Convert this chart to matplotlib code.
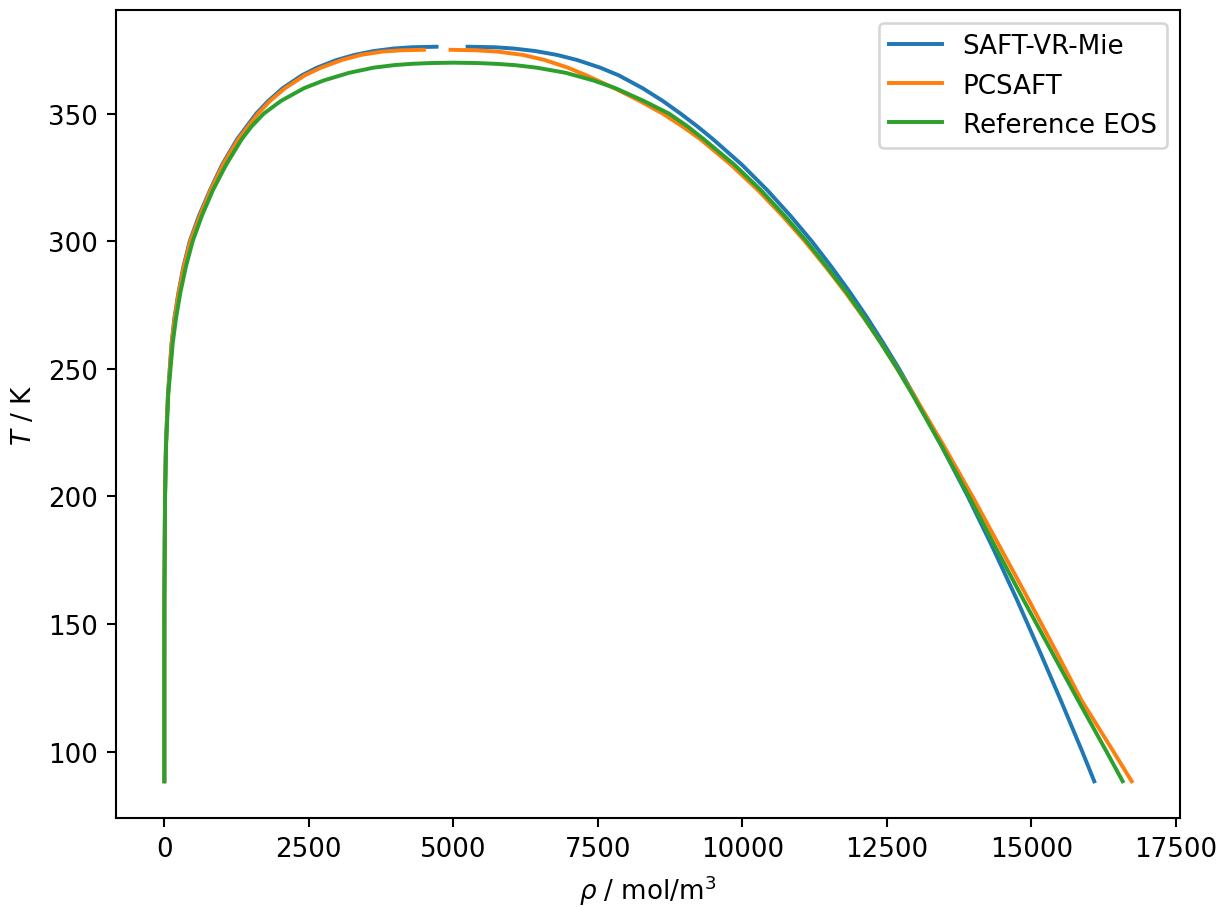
import numpy as np
import matplotlib
matplotlib.use("Agg")
import matplotlib.pyplot as plt

# saturation curves, T in K, rho in mol/m3
T_mie_vap = [88.4, 120, 160, 200, 220, 240, 260, 270, 280, 290, 300, 310, 320,
             330, 340, 350, 355, 360, 365, 368, 371, 373, 374.5, 375.5, 376.0, 376.2]
rho_mie_vap = [0, 0, 0.5, 11, 27, 62, 125, 175, 245, 330, 440, 600, 790,
               1000, 1260, 1590, 1800, 2050, 2380, 2640, 2980, 3290, 3620, 3970, 4280, 4709]
T_mie_liq = [376.2, 376.0, 375.5, 374.5, 373, 371, 368, 365, 360, 355, 350, 345, 340, 330,
             320, 310, 300, 290, 280, 270, 260, 250, 240, 220, 200, 180, 160, 140, 120, 100, 88.4]
rho_mie_liq = [5246, 5720, 6040, 6420, 6790, 7140, 7540, 7860, 8270, 8620, 8930, 9220, 9490, 9990,
               10430, 10830, 11200, 11540, 11860, 12160, 12440, 12710, 12960, 13440, 13900,
               14330, 14740, 15130, 15510, 15880, 16087]

T_pc_vap = [88.4, 120, 160, 200, 220, 240, 260, 270, 280, 290, 300, 310, 320,
            330, 340, 350, 355, 360, 365, 368, 371, 373, 374.3, 374.8, 375.0]
rho_pc_vap = [0, 0, 0.5, 12, 28, 64, 128, 180, 250, 338, 450, 615, 800,
              1015, 1280, 1620, 1830, 2090, 2430, 2710, 3070, 3400, 3770, 4100, 4490]
T_pc_liq = [375.0, 374.8, 374.3, 373, 371, 368, 365, 360, 355, 350, 345, 340, 330, 320, 310,
            300, 290, 280, 270, 260, 250, 240, 220, 200, 180, 160, 140, 120, 100, 88.4]
rho_pc_liq = [4952, 5380, 5760, 6200, 6580, 6980, 7300, 7780, 8220, 8620, 8960, 9270, 9800,
              10270, 10690, 11080, 11440, 11780, 12100, 12400, 12680, 12960, 13480, 13980,
              14460, 14940, 15410, 15869, 16420, 16734]

T_ref = [88.4, 120, 160, 200, 220, 240, 260, 270, 280, 290, 300, 310, 320, 330, 340,
         345, 350, 355, 360, 363, 366, 368, 369, 369.5, 369.8, 369.95,
         369.8, 369.5, 369, 368, 366, 363, 360, 355, 350, 345, 340, 330, 320, 310, 300,
         290, 280, 270, 260, 250, 240, 220, 200, 180, 160, 140, 120, 100, 88.4]
rho_ref = [0, 0, 1, 13, 30, 68, 145, 203, 278, 373, 490, 650, 840, 1070, 1340,
           1510, 1720, 2020, 2420, 2760, 3200, 3620, 3980, 4280, 4600, 5000,
           5420, 5740, 6060, 6440, 6940, 7420, 7800, 8290, 8730, 9050, 9330, 9860, 10320, 10730, 11110,
           11460, 11800, 12110, 12400, 12680, 12940, 13440, 13920, 14380, 14850, 15330, 15810,
           16300, 16578]

fig = plt.figure(figsize=(1226 / 188, 909 / 188), dpi=188)
ax = fig.add_axes([0.0946, 0.099, 0.8679, 0.8889])

ax.plot(rho_mie_vap, T_mie_vap, color="C0", label="SAFT-VR-Mie")
ax.plot(rho_mie_liq, T_mie_liq, color="C0")
ax.plot(rho_pc_vap, T_pc_vap, color="C1", label="PCSAFT")
ax.plot(rho_pc_liq, T_pc_liq, color="C1")
ax.plot(rho_ref, T_ref, color="C2", label="Reference EOS")

ax.set_xlabel(r"$\rho$ / mol/m$^3$")
ax.set_ylabel(r"$T$ / K")
ax.legend()

fig.savefig("out.png", dpi=188)
